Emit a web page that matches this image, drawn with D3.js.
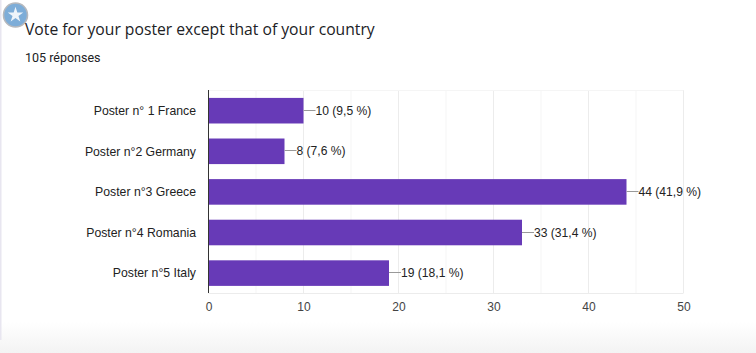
<!DOCTYPE html>
<html><head><meta charset="utf-8">
<script src="https://cdn.jsdelivr.net/npm/d3@7/dist/d3.min.js"></script>
<style>html,body{margin:0;padding:0;background:#fff;overflow:hidden}svg{display:block}</style>
</head><body><svg id="c" width="756" height="353"></svg>
<script>
const categories = ["Poster n° 1 France","Poster n°2 Germany","Poster n°3 Greece","Poster n°4 Romania","Poster n°5 Italy"];
const counts = [10,8,44,33,19];
const percents = ["9,5","7,6","41,9","31,4","18,1"];
const majorTicks = [0,10,20,30,40,50];
const minorTicks = [5,15,25,35,45];
const titleText = "Vote for your poster except that of your country";
const subtitleText = "105 réponses";

const svg = d3.select("#c");
const defs = svg.append("defs");
const g1 = defs.append("linearGradient").attr("id","bot").attr("x1",0).attr("y1",0).attr("x2",0).attr("y2",1);
g1.append("stop").attr("offset",0).attr("stop-color","#fff");
g1.append("stop").attr("offset",1).attr("stop-color","#f3f3f3");
svg.append("rect").attr("x",0).attr("y",322).attr("width",756).attr("height",31).attr("fill","url(#bot)");
svg.append("rect").attr("x",0).attr("y",0).attr("width",1.5).attr("height",340).attr("fill","#e8e6f0");

const plotLeft=208.5,plotRight=683.5,plotTop=90,plotBottom=293;
const x=d3.scaleLinear().domain([0,50]).range([plotLeft,plotRight]);
const y=d3.scaleBand().domain(categories).range([plotTop,plotBottom]).paddingInner(0.37).paddingOuter(0.185);
const font="'Liberation Sans', Arial, sans-serif";

// star badge
const badge=svg.append("g").attr("transform","translate(15.5,15)");
badge.append("circle").attr("r",12).attr("fill","#7dadd8").attr("stroke","#b5b8bd").attr("stroke-width",1.6);
badge.append("path").attr("d",d3.symbol().type(d3.symbolStar).size(75)()).attr("fill","#eef4fa");

svg.append("text").attr("x",25).attr("y",35).attr("font-family","'Open Sans', Lato, sans-serif")
  .attr("font-size",15.7).attr("fill","#202124").text(titleText);
svg.append("text").attr("x",25).attr("y",62).attr("font-family","Roboto, sans-serif").attr("font-size",12.5).attr("fill","#202124").text(subtitleText);

// grid
const grid=svg.append("g");
grid.selectAll(".mn").data(minorTicks).join("line").attr("class","mn").attr("x1",d=>x(d)).attr("x2",d=>x(d)).attr("y1",plotTop).attr("y2",plotBottom).attr("stroke","#f5f5f5");
grid.selectAll(".mj").data(majorTicks.slice(1)).join("line").attr("class","mj").attr("x1",d=>x(d)).attr("x2",d=>x(d)).attr("y1",plotTop).attr("y2",plotBottom).attr("stroke","#ececec");
grid.append("line").attr("x1",plotLeft).attr("x2",plotRight).attr("y1",plotTop+.5).attr("y2",plotTop+.5).attr("stroke","#f5f5f5");
grid.append("line").attr("x1",plotLeft).attr("x2",plotRight).attr("y1",plotBottom+.5).attr("y2",plotBottom+.5).attr("stroke","#ececec");

// bars
svg.selectAll(".bar").data(counts).join("rect").attr("class","bar")
  .attr("x",x(0)).attr("y",(d,i)=>y(categories[i])+.4).attr("width",d=>x(d)-x(0)).attr("height",y.bandwidth()).attr("fill","#673ab7");

// leaders and labels
const cy=i=>y(categories[i])+y.bandwidth()/2+.4;
svg.selectAll(".lead").data(counts).join("line").attr("class","lead").attr("x1",d=>x(d)).attr("x2",d=>x(d)+12)
  .attr("y1",(d,i)=>Math.round(cy(i))-.5).attr("y2",(d,i)=>Math.round(cy(i))-.5).attr("stroke","#999");
svg.selectAll(".val").data(counts).join("text").attr("class","val").attr("x",d=>x(d)+12).attr("y",(d,i)=>cy(i)+4)
  .attr("font-family",font).attr("font-size",12.1).attr("fill","#222").text((d,i)=>`${d} (${percents[i]} %)`);

// axes
const ax=svg.append("g").attr("transform",`translate(0,${plotBottom})`).call(d3.axisBottom(x).tickValues(majorTicks).tickSize(0).tickPadding(9.5));
ax.select(".domain").remove();
ax.selectAll("text").attr("font-family",font).attr("font-size",12).attr("fill","#444");
const ay=svg.append("g").attr("transform",`translate(${plotLeft},0.7)`).call(d3.axisLeft(y).tickSize(0).tickPadding(12.5));
ay.select(".domain").remove();
ay.selectAll("text").attr("font-family",font).attr("font-size",12.25).attr("fill","#222");
svg.append("line").attr("x1",plotLeft).attr("x2",plotLeft).attr("y1",plotTop).attr("y2",plotBottom).attr("stroke","#333");
</script></body></html>
